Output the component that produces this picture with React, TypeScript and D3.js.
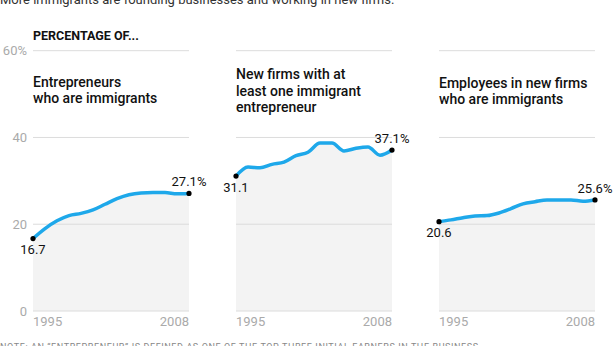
import React from "react";
import * as d3 from "d3";

const years = [1995, 1996, 1997, 1998, 1999, 2000, 2001, 2002, 2003, 2004, 2005, 2006, 2007, 2008];
const entrepreneurs = [16.7, 19.0, 20.8, 22.0, 22.5, 23.3, 24.6, 25.9, 26.8, 27.2, 27.3, 27.3, 27.0, 27.1];
const newFirms = [31.1, 33.2, 33.0, 33.8, 34.3, 35.8, 36.6, 38.7, 38.7, 36.9, 37.5, 37.8, 35.9, 37.1];
const employees = [20.6, 21.0, 21.5, 21.9, 22.0, 22.6, 23.6, 24.7, 25.2, 25.6, 25.6, 25.6, 25.3, 25.6];
const yTicks = [0, 20, 40, 60];
const xTickYears = [1995, 2008];
const panelTitles = [
  ["Entrepreneurs", "who are immigrants"],
  ["New firms with at", "least one immigrant", "entrepreneur"],
  ["Employees in new firms", "who are immigrants"],
];
const seriesList = [entrepreneurs, newFirms, employees];
const headline = "More immigrants are founding businesses and working in new firms.";
const subhead = "PERCENTAGE OF...";
const note = "NOTE: AN \u201CENTREPRENEUR\u201D IS DEFINED AS ONE OF THE TOP THREE INITIAL EARNERS IN THE BUSINESS.";

const W = 616;
const H = 346;
const panelLefts = [33, 236, 439];
const panelWidth = 156;
const titleBaselines = [[87, 103], [79, 96, 112], [88, 104]];
const FONT = "Roboto, 'Liberation Sans', sans-serif";

const y = d3.scaleLinear().domain([0, 60]).range([311, 50.7]);

export default function App() {
  return (
    <svg width={W} height={H} style={{ position: "absolute", left: 0, top: 0 }} fontFamily={FONT}>
      <rect width={W} height={H} fill="#fff" />
      <text x={0} y={4} fontSize={13} fill="#333">{headline}</text>
      <text x={33} y={40} fontSize={12.5} fontWeight={700} fill="#111">{subhead}</text>
      {yTicks.map((t) => (
        <text key={t} x={27} y={y(t) + 4.5} textAnchor="end" fontSize={13} fill="#aaa">
          {t === 60 ? "60%" : t}
        </text>
      ))}
      {seriesList.map((vals, i) => {
        const x = d3
          .scaleLinear()
          .domain([years[0], years[years.length - 1]])
          .range([panelLefts[i], panelLefts[i] + panelWidth]);
        const data = years.map((yr, k) => ({ yr, v: vals[k] }));
        const line = d3
          .line<{ yr: number; v: number }>()
          .x((d) => x(d.yr))
          .y((d) => y(d.v))
          .curve(d3.curveMonotoneX);
        const area = d3
          .area<{ yr: number; v: number }>()
          .x((d) => x(d.yr))
          .y0(y(0))
          .y1((d) => y(d.v))
          .curve(d3.curveMonotoneX);
        const first = data[0];
        const last = data[data.length - 1];
        return (
          <g key={i}>
            <path d={area(data) || ""} fill="#f3f3f3" />
            {yTicks.map((t) => (
              <line
                key={t}
                x1={x.range()[0]}
                x2={x.range()[1]}
                y1={y(t)}
                y2={y(t)}
                stroke="#dcdcdc"
                strokeWidth={1}
              />
            ))}
            {panelTitles[i].map((s, j) => (
              <text key={j} x={panelLefts[i]} y={titleBaselines[i][j]} fontSize={14} fontWeight={500} fill="#111">
                {s}
              </text>
            ))}
            <path d={line(data) || ""} fill="none" stroke="#1ea8ea" strokeWidth={3.5} strokeLinecap="round" />
            <circle cx={x(first.yr)} cy={y(first.v)} r={2.6} fill="#000" />
            <circle cx={x(last.yr)} cy={y(last.v)} r={2.6} fill="#000" />
            <text x={x(first.yr)} y={y(first.v) + 15.5} textAnchor="middle" fontSize={13} fill="#111">
              {first.v.toFixed(1)}
            </text>
            <text x={x(last.yr)} y={y(last.v) - 7} textAnchor="middle" fontSize={13} fill="#111">
              {last.v.toFixed(1) + "%"}
            </text>
            {xTickYears.map((yr, k) => (
              <text
                key={yr}
                x={x(yr)}
                y={326}
                textAnchor={k === 0 ? "start" : "end"}
                fontSize={13}
                fill="#aaa"
              >
                {yr}
              </text>
            ))}
          </g>
        );
      })}
      <text x={0} y={350} fontSize={9} letterSpacing={0.6} fill="#888">{note}</text>
    </svg>
  );
}
